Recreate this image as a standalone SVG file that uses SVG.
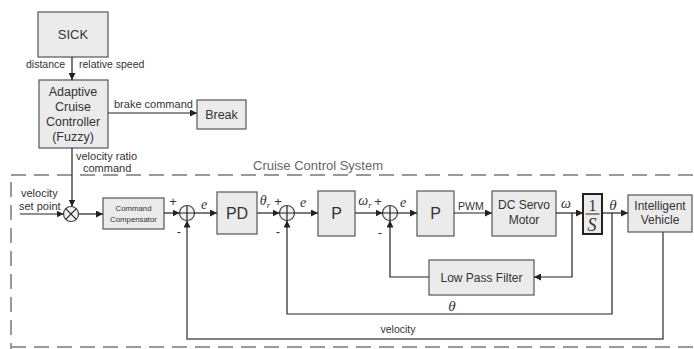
<svg xmlns="http://www.w3.org/2000/svg" width="694" height="349" viewBox="0 0 694 349">
  <defs>
    <marker id="arr" viewBox="0 0 8 8" refX="8" refY="4" markerWidth="7" markerHeight="7" markerUnits="userSpaceOnUse" orient="auto">
      <path d="M0,0 L8,4 L0,8 z" fill="#222"/>
    </marker>
    <style>
      .box { fill: #ebebeb; stroke: #555; stroke-width: 1.2; }
      .line { fill: none; stroke: #222; stroke-width: 1.2; }
      .fb { fill: none; stroke: #555; stroke-width: 1.5; }
      .sum { fill: #f4f4f4; stroke: #444; stroke-width: 1.2; }
      .t { font-family: "Liberation Sans", Arial, sans-serif; fill: #333; }
      .c { text-anchor: middle; }
      .m { font-family: "Liberation Serif", "Times New Roman", serif; font-style: italic; fill: #333; }
      .r { font-family: "Liberation Serif", "Times New Roman", serif; fill: #333; }
      .dash { fill: none; stroke: #999; stroke-width: 2; stroke-dasharray: 15 8; }
    </style>
  </defs>
  <rect width="694" height="349" fill="#fff"/>

  <!-- system boundary -->
  <g id="boundary">
    <path class="dash" d="M11,175 H694"/>
    <path class="dash" d="M11,182 V349"/>
    <path class="dash" d="M11,347 H694"/>
    <text class="t" x="253" y="170" font-size="13" style="fill:#666">Cruise Control System</text>
  </g>

  <!-- nodes -->
  <g id="sick">
    <rect class="box" x="38" y="12" width="70" height="45"/>
    <text class="t c" x="73" y="39" font-size="13">SICK</text>
  </g>
  <g id="acc">
    <rect class="box" x="39" y="80" width="69" height="68"/>
    <text class="t c" x="73" y="96" font-size="12.5">Adaptive</text>
    <text class="t c" x="73" y="111" font-size="12.5">Cruise</text>
    <text class="t c" x="73" y="126" font-size="12.5">Controller</text>
    <text class="t c" x="73" y="141" font-size="12.5">(Fuzzy)</text>
  </g>
  <g id="break">
    <rect class="box" x="197" y="100" width="49" height="29"/>
    <text class="t c" x="221.5" y="119" font-size="12.5">Break</text>
  </g>
  <g id="mult">
    <circle class="sum" cx="71" cy="214" r="7.5"/>
    <path class="line" d="M65.7,208.7 L76.3,219.3 M76.3,208.7 L65.7,219.3"/>
  </g>
  <g id="compensator">
    <rect class="box" x="103" y="198" width="61" height="31"/>
    <text class="t c" x="133.5" y="211" font-size="7.8">Command</text>
    <text class="t c" x="133.5" y="222" font-size="7.8">Compensator</text>
  </g>
  <g id="sum1">
    <circle class="sum" cx="187" cy="213" r="7.5"/>
    <path class="line" d="M179.5,213 H194.5 M187,205.5 V220.5"/>
  </g>
  <g id="pd">
    <rect class="box" x="217" y="192" width="40" height="42"/>
    <text class="t c" x="237" y="219" font-size="16">PD</text>
  </g>
  <g id="sum2">
    <circle class="sum" cx="287" cy="213" r="7.5"/>
    <path class="line" d="M279.5,213 H294.5 M287,205.5 V220.5"/>
  </g>
  <g id="p1">
    <rect class="box" x="318" y="191" width="37" height="45"/>
    <text class="t c" x="336.5" y="219" font-size="16">P</text>
  </g>
  <g id="sum3">
    <circle class="sum" cx="390" cy="213" r="7.5"/>
    <path class="line" d="M382.5,213 H397.5 M390,205.5 V220.5"/>
  </g>
  <g id="p2">
    <rect class="box" x="417" y="191" width="37" height="45"/>
    <text class="t c" x="435.5" y="219" font-size="16">P</text>
  </g>
  <g id="servo">
    <rect class="box" x="492" y="191" width="64" height="45"/>
    <text class="t c" x="524" y="209" font-size="12">DC Servo</text>
    <text class="t c" x="524" y="224" font-size="12">Motor</text>
  </g>
  <g id="integrator">
    <rect class="box" x="583" y="194" width="19" height="40" style="stroke:#222;stroke-width:2"/>
    <text class="r c" x="592.5" y="211" font-size="16">1</text>
    <path d="M585.5,214 H599.5" stroke="#222" stroke-width="1"/>
    <text class="m c" x="592" y="231" font-size="18">S</text>
  </g>
  <g id="vehicle">
    <rect class="box" x="628" y="195" width="64" height="37"/>
    <text class="t c" x="660" y="210" font-size="12">Intelligent</text>
    <text class="t c" x="660" y="224" font-size="12">Vehicle</text>
  </g>
  <g id="lpf">
    <rect class="box" x="429" y="260" width="105" height="35"/>
    <text class="t c" x="481.5" y="282" font-size="12">Low Pass Filter</text>
  </g>

  <!-- connectors -->
  <g id="connectors">
    <path class="line" d="M72,57 V80" marker-end="url(#arr)"/>
    <path class="line" d="M108,113 H197" marker-end="url(#arr)"/>
    <path class="line" d="M72,148 V206.5" marker-end="url(#arr)"/>
    <path class="line" d="M20,214 H63.5" marker-end="url(#arr)"/>
    <path class="line" d="M78.5,214 H103" marker-end="url(#arr)"/>
    <path class="line" d="M164,213 H179.5" marker-end="url(#arr)"/>
    <path class="line" d="M194.5,213 H217" marker-end="url(#arr)"/>
    <path class="line" d="M257,213 H279.5" marker-end="url(#arr)"/>
    <path class="line" d="M294.5,213 H318" marker-end="url(#arr)"/>
    <path class="line" d="M355,213 H382.5" marker-end="url(#arr)"/>
    <path class="line" d="M397.5,213 H417" marker-end="url(#arr)"/>
    <path class="line" d="M454,213 H492" marker-end="url(#arr)"/>
    <path class="line" d="M556,213 H583" marker-end="url(#arr)"/>
    <path class="line" d="M602,213 H628" marker-end="url(#arr)"/>
    <!-- inner speed loop through the filter -->
    <path class="line" d="M572,213 V277 H534" marker-end="url(#arr)"/>
    <path class="line" d="M429,277 H390 V220.5" marker-end="url(#arr)"/>
    <!-- position loop -->
    <path class="line" d="M612,213 V314 H287 V220.5" marker-end="url(#arr)"/>
    <!-- velocity loop -->
    <path class="fb" d="M663,232 V339 H187 V220.5" marker-end="url(#arr)"/>
  </g>

  <!-- signal labels -->
  <g id="labels">
    <text class="t" x="26" y="68" font-size="10.5">distance</text>
    <text class="t" x="79" y="68" font-size="10.5">relative speed</text>
    <text class="t" x="114" y="108" font-size="11">brake command</text>
    <text class="t" x="76" y="160" font-size="11">velocity ratio</text>
    <text class="t" x="83" y="172" font-size="11">command</text>
    <text class="t" x="21" y="197" font-size="11">velocity</text>
    <text class="t" x="19" y="210" font-size="11">set point</text>

    <text class="t c" x="173" y="206" font-size="13">+</text>
    <text class="t c" x="179" y="236" font-size="13">-</text>
    <text class="m c" x="204" y="209" font-size="14">e</text>

    <text class="m c" x="265" y="205" font-size="14">θ<tspan font-size="9" dy="3">r</tspan></text>
    <text class="t c" x="278" y="206" font-size="13">+</text>
    <text class="t c" x="278" y="236" font-size="13">-</text>
    <text class="m c" x="303" y="207" font-size="14">e</text>

    <text class="m c" x="365" y="205" font-size="14">ω<tspan font-size="9" dy="3">r</tspan></text>
    <text class="t c" x="378" y="206" font-size="13">+</text>
    <text class="t c" x="380" y="237" font-size="13">-</text>
    <text class="m c" x="403" y="207" font-size="14">e</text>

    <text class="t" x="458" y="210" font-size="10.5">PWM</text>
    <text class="m c" x="566" y="208" font-size="14">ω</text>
    <text class="m c" x="613" y="210" font-size="15">θ</text>
    <text class="m c" x="452" y="311" font-size="15">θ</text>
    <text class="t c" x="398" y="333" font-size="10.5">velocity</text>
  </g>
</svg>
